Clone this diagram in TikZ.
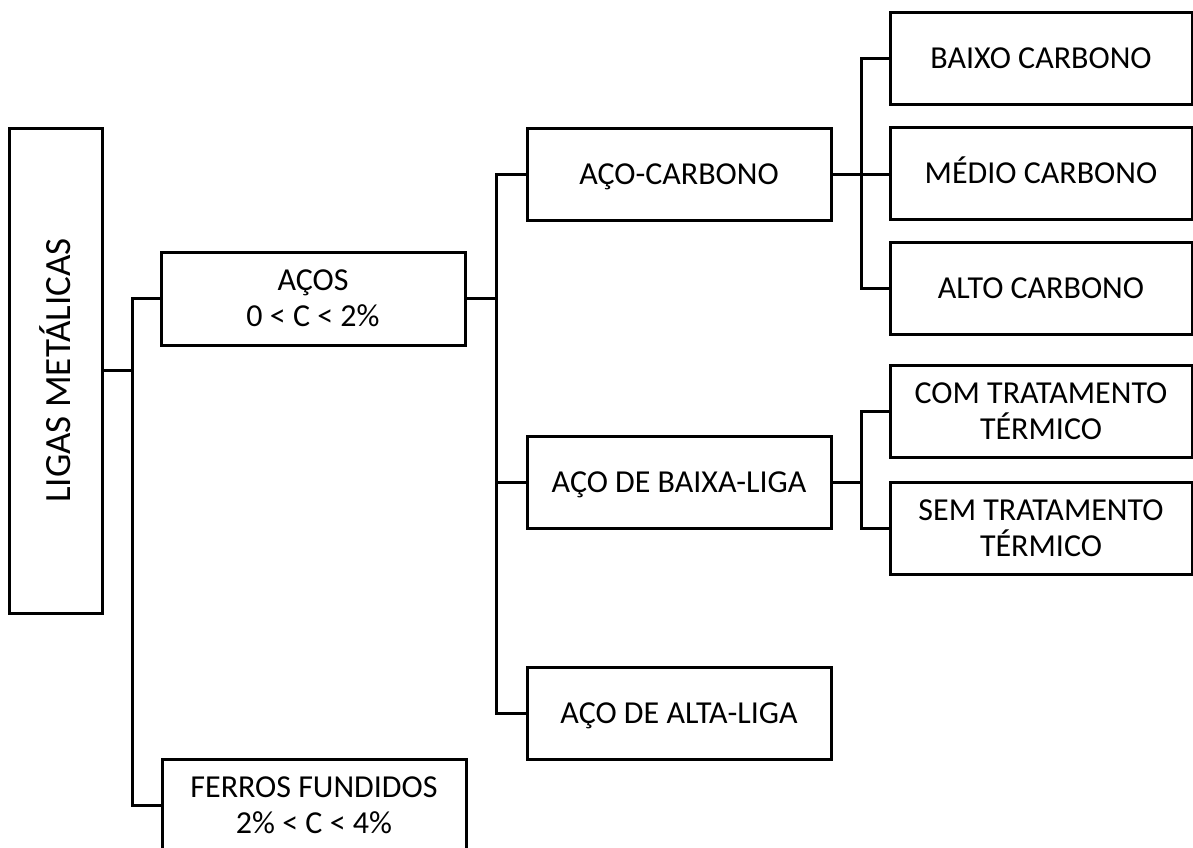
\documentclass[tikz,border=0pt]{standalone}
\usepackage{fontspec}
\setmainfont{Carlito}
\begin{document}
\begin{tikzpicture}[x=1pt,y=-1pt,
  box/.style={draw=black, line width=3pt, fill=white, align=center, inner sep=0pt,
    minimum width=304pt, minimum height=92pt, font=\fontsize{32}{36}\selectfont},
  one/.style={text height=20.6pt, text depth=0pt},
  rbox/.style={box, minimum width=302pt},
  conn/.style={draw=black, line width=3pt, line cap=rect}]
\useasboundingbox (0,0) rectangle (1193,847);
% nodes
\node[box, minimum width=93pt, minimum height=485pt] (ligas) at (55.5,370.5)
  {\rotatebox{90}{\fontsize{37}{44}\selectfont LIGAS METÁLICAS}};
\node[box, minimum height=93pt] (acos) at (313,298.5) {AÇOS\\0 < C < 2\%};
\node[box, minimum height=93pt] (ferros) at (314,805.5) {FERROS FUNDIDOS\\2\% < C < 4\%};
\node[box, one] (acocarb) at (679,174) {AÇO-CARBONO};
\node[box, one] (baixaliga) at (679,482) {AÇO DE BAIXA-LIGA};
\node[box, one] (altaliga) at (679,713) {AÇO DE ALTA-LIGA};
\node[rbox, one] (baixo) at (1041,58) {BAIXO CARBONO};
\node[rbox, one] (medio) at (1041,173.5) {MÉDIO CARBONO};
\node[rbox, one] (alto) at (1041,288.5) {ALTO CARBONO};
\node[rbox] (com) at (1041,411) {COM TRATAMENTO\\TÉRMICO};
\node[rbox] (sem) at (1041,528.5) {SEM TRATAMENTO\\TÉRMICO};
% junctions
\coordinate (j1) at (132,370.5);
\coordinate (j2) at (496,298.5);
\coordinate (j3) at (861,174);
\coordinate (j4) at (861,482);
% connectors
\draw[conn] (ligas.east) -- (j1);
\draw[conn] (acos.west) -| (j1) |- (ferros.west);
\draw[conn] (acos.east) -- (j2);
\draw[conn] (acocarb.west) -| (j2) |- (altaliga.west);
\draw[conn] (baixaliga.west) -- (baixaliga.west -| j2);
\draw[conn] (acocarb.east) -- (acocarb.east -| medio.west);
\draw[conn] (baixo.west) -| (j3) |- (alto.west);
\draw[conn] (baixaliga.east) -- (j4);
\draw[conn] (com.west) -| (j4) |- (sem.west);
\end{tikzpicture}
\end{document}
